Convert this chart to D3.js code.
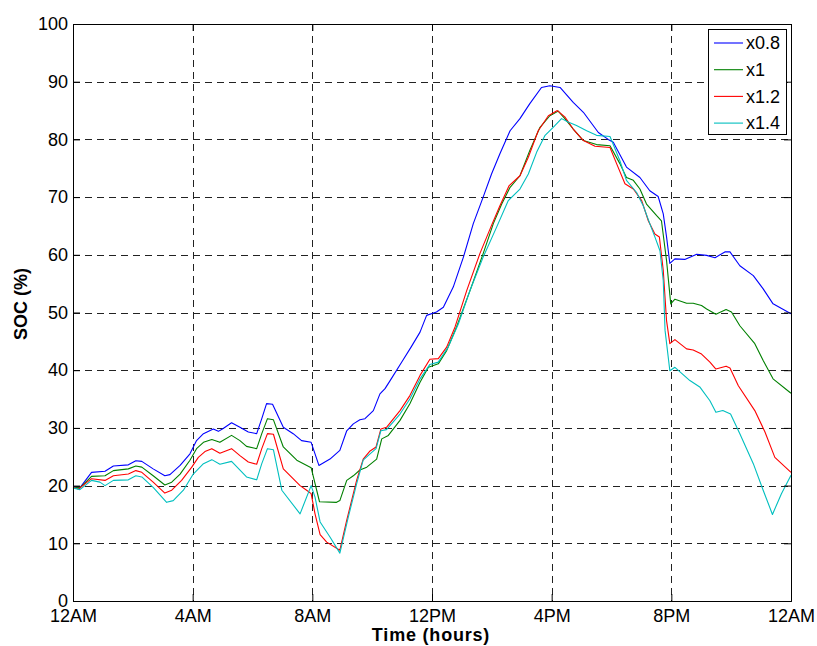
<!DOCTYPE html>
<html>
<head>
<meta charset="utf-8">
<script src="https://cdn.jsdelivr.net/npm/d3@7"></script>
<style>
  html, body { margin: 0; padding: 0; background: #fff; }
  svg { display: block; }
  text { font-family: "Liberation Sans", Arial, Helvetica, sans-serif; }
</style>
</head>
<body>
<svg id="chart" width="817" height="646"></svg>
<script>
// ---- data (hour of day, SOC %) ----
const xTickHours = [0, 4, 8, 12, 16, 20, 24];
const xTickLabels = ["12AM", "4AM", "8AM", "12PM", "4PM", "8PM", "12AM"];
const yTicks = [0, 10, 20, 30, 40, 50, 60, 70, 80, 90, 100];
const seriesNames = ["x0.8", "x1", "x1.2", "x1.4"];
const seriesColors = ["#0000ff", "#008000", "#ff0000", "#00bfbf"];

const socX08 = [[0,19.8],[0.23,19.6],[0.62,22.3],[1.07,22.5],[1.35,23.4],[1.85,23.6],[2.1,24.3],[2.3,24.2],[2.68,22.9],[3.07,21.7],[3.24,21.9],[3.58,23.5],[3.91,25.5],[4.13,27.8],[4.36,29.0],[4.69,29.8],[4.86,29.4],[5.02,29.9],[5.3,30.9],[5.58,30.1],[5.86,29.3],[6.14,29.0],[6.31,31.6],[6.47,34.2],[6.67,34.1],[7.03,30.1],[7.36,29.0],[7.64,27.8],[7.96,27.5],[8.22,23.5],[8.59,24.6],[8.92,26.1],[9.15,29.5],[9.37,30.7],[9.59,31.4],[9.76,31.6],[10.04,33.0],[10.26,35.9],[10.43,36.8],[10.6,38.2],[11.0,41.5],[11.3,44.0],[11.6,46.6],[11.82,49.5],[12.15,50.1],[12.38,50.9],[12.71,54.4],[13.05,59.6],[13.38,65.4],[13.71,70.0],[13.99,74.0],[14.27,77.5],[14.61,81.5],[14.94,83.6],[15.27,86.2],[15.66,89.0],[15.94,89.3],[16.28,89.0],[16.72,86.4],[17.06,84.7],[17.56,81.2],[17.89,80.0],[18.06,79.5],[18.5,75.2],[18.95,73.4],[19.28,71.1],[19.56,70.1],[19.73,67.1],[19.84,63.1],[19.95,58.5],[20.12,59.3],[20.45,59.2],[20.85,60.1],[21.18,59.9],[21.46,59.5],[21.79,60.5],[21.96,60.5],[22.29,58.1],[22.74,56.4],[23.07,54.1],[23.4,51.5],[24,49.8]];

const socX1 = [[0,19.7],[0.23,19.6],[0.62,21.6],[1.07,21.7],[1.35,22.6],[1.85,22.9],[2.1,23.4],[2.3,23.2],[2.68,21.7],[3.07,20.1],[3.3,20.6],[3.58,22.0],[3.91,24.4],[4.13,26.4],[4.36,27.5],[4.64,28.0],[4.91,27.5],[5.3,28.7],[5.58,27.8],[5.8,26.8],[6.14,26.4],[6.31,29.0],[6.5,31.6],[6.7,31.4],[7.03,26.7],[7.48,24.4],[7.96,23.1],[8.24,17.2],[8.81,17.1],[8.92,17.4],[9.15,20.9],[9.37,21.7],[9.59,22.7],[9.82,23.2],[10.15,24.6],[10.32,28.1],[10.54,28.7],[10.93,31.3],[11.26,34.2],[11.6,37.9],[11.88,40.5],[12.21,41.1],[12.49,43.4],[12.82,47.5],[13.27,53.8],[13.71,60.2],[14.05,65.4],[14.33,68.8],[14.61,71.7],[14.94,73.7],[15.27,78.1],[15.61,82.1],[15.94,84.1],[16.22,84.9],[16.44,83.6],[16.72,81.8],[17.06,79.8],[17.5,79.1],[17.95,78.9],[18.28,75.8],[18.5,73.4],[18.73,72.9],[18.95,71.4],[19.17,68.8],[19.51,66.8],[19.67,65.9],[19.84,59.0],[19.98,51.5],[20.12,52.3],[20.51,51.6],[20.73,51.6],[21.01,51.2],[21.18,50.6],[21.49,49.7],[21.83,50.5],[22.01,50.1],[22.29,47.7],[22.79,44.6],[23.07,41.7],[23.4,38.5],[24,36.0]];

const socX12 = [[0,19.7],[0.18,19.4],[0.62,21.2],[1.07,20.9],[1.35,21.7],[1.85,22.0],[2.1,22.6],[2.3,22.3],[2.68,20.6],[3.07,18.7],[3.3,19.2],[3.63,20.9],[3.97,23.2],[4.19,24.9],[4.41,25.9],[4.64,26.4],[4.91,25.6],[5.3,26.4],[5.58,25.2],[5.86,24.1],[6.14,23.7],[6.31,26.4],[6.5,29.0],[6.7,28.9],[7.03,22.9],[7.59,20.0],[7.81,19.2],[7.96,18.6],[8.09,15.1],[8.26,11.5],[8.48,10.2],[8.92,8.8],[9.15,14.0],[9.48,20.9],[9.7,24.6],[9.93,26.0],[10.13,26.7],[10.29,29.8],[10.48,30.1],[10.93,33.0],[11.26,35.6],[11.6,39.1],[11.93,41.9],[12.21,42.0],[12.49,44.0],[12.77,47.5],[13.16,53.8],[13.6,60.2],[13.99,65.1],[14.27,68.5],[14.58,72.0],[14.94,73.7],[15.22,76.9],[15.55,81.5],[15.89,84.1],[16.19,85.0],[16.44,83.9],[16.72,81.8],[17.06,79.8],[17.45,78.8],[17.95,78.6],[18.17,75.8],[18.45,72.3],[18.73,71.4],[19.01,69.4],[19.23,65.9],[19.45,63.6],[19.6,63.1],[19.73,57.3],[19.84,48.6],[19.95,44.6],[20.12,45.3],[20.51,43.7],[20.73,43.5],[21.01,42.8],[21.29,41.4],[21.49,40.2],[21.83,40.7],[21.96,40.4],[22.24,37.3],[22.79,33.0],[23.13,29.3],[23.46,24.9],[24,22.3]];

const socX14 = [[0,19.6],[0.23,19.3],[0.62,20.9],[0.9,20.6],[1.07,20.0],[1.35,20.9],[1.85,21.0],[2.1,21.7],[2.3,21.5],[2.68,19.7],[3.13,17.1],[3.35,17.4],[3.69,19.2],[4.02,22.0],[4.36,23.8],[4.64,24.5],[4.91,23.7],[5.3,24.2],[5.8,21.5],[6.14,21.0],[6.31,23.8],[6.5,26.4],[6.7,26.2],[6.98,19.2],[7.59,15.1],[7.96,20.0],[8.09,18.0],[8.26,13.7],[8.59,11.1],[8.92,8.3],[9.2,14.5],[9.48,20.3],[9.7,24.4],[9.93,25.5],[10.13,26.4],[10.29,29.5],[10.48,29.7],[10.93,32.4],[11.26,35.0],[11.6,38.5],[11.93,41.0],[12.21,41.4],[12.54,44.0],[12.88,48.0],[13.27,53.8],[13.71,59.6],[14.16,64.8],[14.55,69.4],[14.94,71.4],[15.22,74.0],[15.5,77.8],[15.78,80.7],[16.05,82.1],[16.33,83.6],[16.55,83.0],[16.83,82.4],[17.17,81.5],[17.5,80.7],[17.95,80.5],[18.28,76.3],[18.5,72.9],[18.84,70.8],[19.06,68.5],[19.28,65.4],[19.45,63.1],[19.62,60.7],[19.73,55.5],[19.79,46.9],[19.95,39.9],[20.12,40.5],[20.62,38.2],[20.95,37.1],[21.29,34.7],[21.49,32.7],[21.72,33.0],[21.98,32.4],[22.29,29.0],[22.74,23.8],[23.07,19.2],[23.38,15.0],[23.68,18.6],[24,21.8]];

const allSeries = [socX08, socX1, socX12, socX14];

// ---- layout ----
const W = 817, H = 646;
const margin = {left: 73, right: 26, top: 24, bottom: 45};
const iw = W - margin.left - margin.right;
const ih = H - margin.top - margin.bottom;

const svg = d3.select("#chart");
const g = svg.append("g").attr("transform", `translate(${margin.left},${margin.top})`);

const x = d3.scaleLinear().domain([0, 24]).range([0, iw]);
const y = d3.scaleLinear().domain([0, 100]).range([ih, 0]);

// grid
const grid = g.append("g").attr("stroke", "#222").attr("stroke-width", 1).attr("stroke-dasharray", "7,5");
grid.selectAll("line.v").data(xTickHours.slice(1, -1)).join("line")
  .attr("x1", d => Math.round(x(d)) + 0.5).attr("x2", d => Math.round(x(d)) + 0.5)
  .attr("y1", 0).attr("y2", ih);
grid.selectAll("line.h").data(yTicks.slice(1, -1)).join("line")
  .attr("y1", d => Math.round(y(d)) + 0.5).attr("y2", d => Math.round(y(d)) + 0.5)
  .attr("x1", 0).attr("x2", iw);

// lines
const line = d3.line().x(d => x(d[0])).y(d => y(d[1]));
allSeries.forEach((s, i) => {
  g.append("path").datum(s)
    .attr("fill", "none")
    .attr("stroke", seriesColors[i])
    .attr("stroke-width", 1.1)
    .attr("stroke-linejoin", "round")
    .attr("d", line);
});

// axes
const fmt = d => xTickLabels[xTickHours.indexOf(d)];
const axB = g.append("g").attr("transform", `translate(0,${ih})`)
  .call(d3.axisBottom(x).tickValues(xTickHours).tickFormat(fmt).tickSize(-7).tickPadding(8));
const axT = g.append("g")
  .call(d3.axisTop(x).tickValues(xTickHours).tickFormat("").tickSize(-7));
const axL = g.append("g")
  .call(d3.axisLeft(y).tickValues(yTicks).tickSize(-7).tickPadding(5));
const axR = g.append("g").attr("transform", `translate(${iw},0)`)
  .call(d3.axisRight(y).tickValues(yTicks).tickFormat("").tickSize(-7));
[axB, axT, axL, axR].forEach(a => {
  a.select(".domain").attr("stroke", "#000").attr("stroke-width", 1);
  a.selectAll(".tick line").attr("stroke", "#000");
  a.selectAll("text").attr("font-size", 18).attr("fill", "#000")
    .attr("font-family", "'Liberation Sans', Arial, sans-serif");
});

// axis titles
svg.append("text")
  .attr("x", margin.left + iw / 2 - 1).attr("y", 641)
  .attr("text-anchor", "middle").attr("font-weight", "bold").attr("font-size", 18)
  .attr("letter-spacing", "0.8px")
  .text("Time (hours)");
svg.append("text")
  .attr("transform", "translate(27,304) rotate(-90)")
  .attr("text-anchor", "middle").attr("font-weight", "bold").attr("font-size", 18)
  .text("SOC (%)");

// legend
const lg = svg.append("g");
lg.append("rect").attr("x", 708.5).attr("y", 29.5).attr("width", 78).attr("height", 105)
  .attr("fill", "#fff").attr("stroke", "#000").attr("stroke-width", 1);
seriesNames.forEach((n, i) => {
  const yy = 43 + i * 26.7;
  lg.append("line").attr("x1", 714).attr("x2", 743).attr("y1", yy).attr("y2", yy)
    .attr("stroke", seriesColors[i]).attr("stroke-width", 1.1);
  lg.append("text").attr("x", 746).attr("y", yy).attr("dy", "0.35em")
    .attr("font-size", 18).attr("fill", "#000").text(n);
});
</script>
</body>
</html>
